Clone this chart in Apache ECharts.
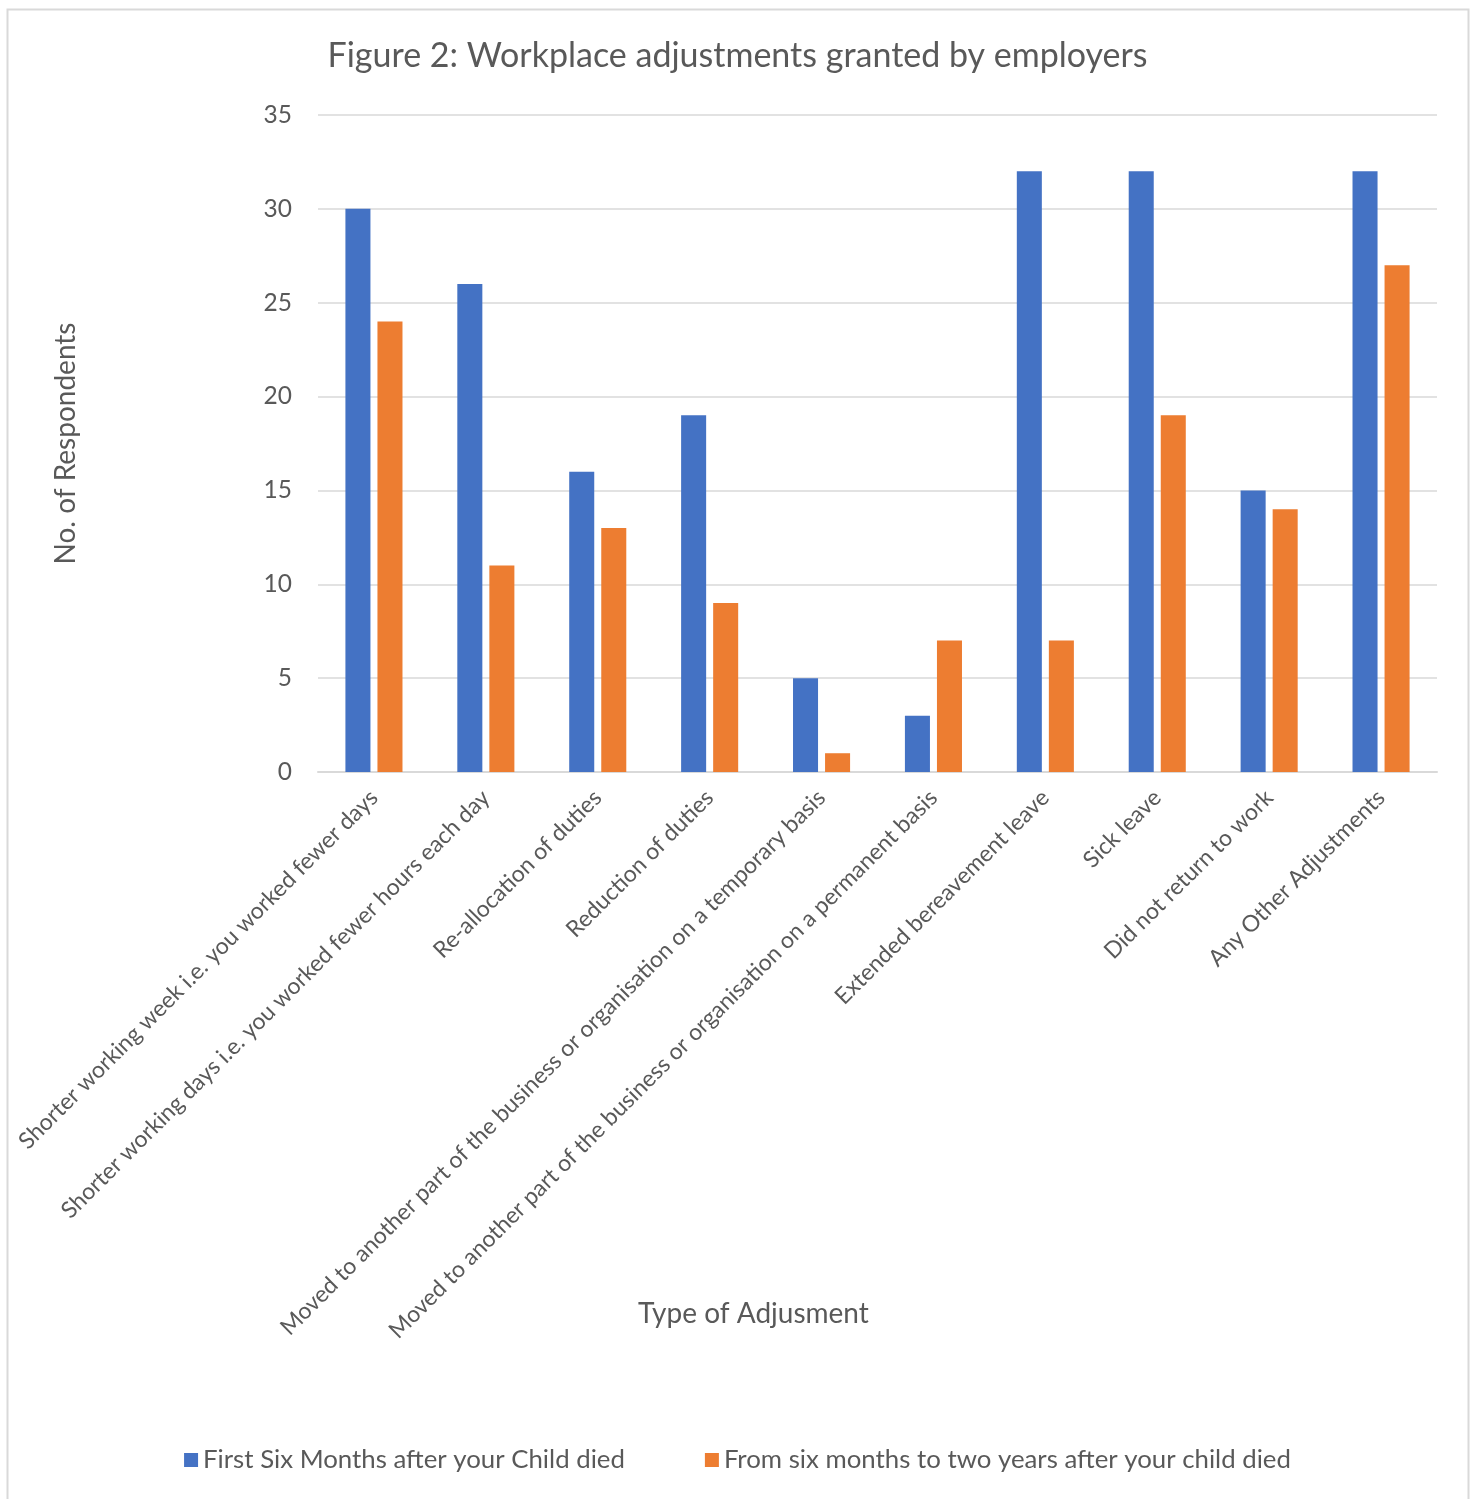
<!DOCTYPE html>
<html><head><meta charset="utf-8">
<script src="https://cdn.jsdelivr.net/npm/echarts@6/dist/echarts.min.js"></script>
<style>html,body{margin:0;padding:0;background:#fff}#c{width:1475px;height:1499px}</style>
</head><body><div id="c"></div>
<script>
const categories = [
  "Shorter working week i.e. you worked fewer days",
  "Shorter working days i.e. you worked fewer hours each day",
  "Re-allocation of duties",
  "Reduction of duties",
  "Moved to another part of the business or organisation on a temporary basis",
  "Moved to another part of the business or organisation on a permanent basis",
  "Extended bereavement leave",
  "Sick leave",
  "Did not return to work",
  "Any Other Adjustments"
];
const firstSixMonths = [30, 26, 16, 19, 5, 3, 32, 32, 15, 32];
const sixMonthsToTwoYears = [24, 11, 13, 9, 1, 7, 7, 19, 14, 27];
const seriesNames = ["First Six Months after your Child died", "From six months to two years after your child died"];
const FONT = "Lato, 'Open Sans', sans-serif";
const TXT = "#595959";

const chart = echarts.init(document.getElementById('c'));
chart.setOption({
  animation: false,
  textStyle: { fontFamily: FONT },
  title: {
    text: "Figure 2: Workplace adjustments granted by employers",
    left: 'center', top: 34,
    textStyle: { fontFamily: FONT, fontSize: 34, fontWeight: 'normal', color: TXT }
  },
  graphic: [
    { type: 'rect', shape: { x: 7.5, y: 9.5, width: 1461, height: 1500 }, style: { fill: 'none', stroke: '#d9d9d9', lineWidth: 2 }, silent: true },
    { type: 'text', left: 638, top: 1300, style: { text: "Type of Adjusment", fill: TXT, font: "28px " + FONT } }
  ],
  legend: {
    bottom: 21, left: 'center',
    itemWidth: 14, itemHeight: 14, itemGap: 80,
    icon: 'rect',
    textStyle: { fontFamily: FONT, fontSize: 25.8, color: TXT },
    data: seriesNames
  },
  grid: { left: 318, right: 38, top: 115, bottom: 727, containLabel: false },
  xAxis: {
    type: 'category', data: categories,
    axisLine: { lineStyle: { color: '#d9d9d9', width: 2 } },
    axisTick: { show: false },
    axisLabel: { interval: 0, rotate: 45, fontSize: 23, color: TXT, fontFamily: FONT, margin: 22 }
  },
  yAxis: {
    type: 'value', min: 0, max: 35, interval: 5,
    name: "No. of Respondents", nameLocation: 'middle', nameGap: 238, nameRotate: 90,
    nameTextStyle: { fontSize: 28, color: TXT, fontFamily: FONT },
    axisLine: { show: false }, axisTick: { show: false },
    axisLabel: { fontSize: 24.5, color: TXT, fontFamily: FONT, margin: 26 },
    splitLine: { lineStyle: { color: '#d9d9d9', width: 1.5 } }
  },
  series: [
    { name: seriesNames[0], type: 'bar', data: firstSixMonths, itemStyle: { color: '#4472C4' }, barGap: '28%', barCategoryGap: '49%' },
    { name: seriesNames[1], type: 'bar', data: sixMonthsToTwoYears, itemStyle: { color: '#ED7D31' } }
  ]
});
</script></body></html>
